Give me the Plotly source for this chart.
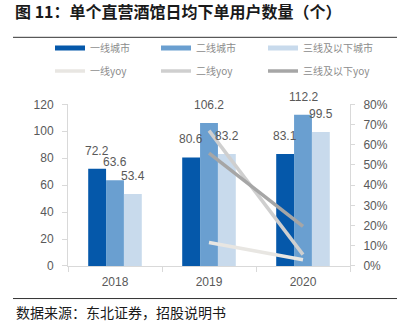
import plotly.graph_objects as go

years = ["2018", "2019", "2020"]
tier1 = [72.2, 80.6, 83.1]
tier2 = [63.6, 106.2, 112.2]
tier3 = [53.4, 83.2, 99.5]

yoy_years = ["2019", "2020"]
tier1_yoy = [0.116, 0.031]
tier2_yoy = [0.670, 0.056]
tier3_yoy = [0.558, 0.196]

bar_names = ["一线城市", "二线城市", "三线及以下城市"]
bar_colors = ["#0558AA", "#6A9FD0", "#C8DAEC"]
yoy_names = ["一线yoy", "二线yoy", "三线及以下yoy"]
yoy_colors = ["#E8E6E2", "#CFCFCF", "#A6A6A6"]

W, H = 407, 331
L, R, T, B = 68, 350, 97, 266
PW, PH = R - L, B - T

TXT = "#595959"
AX = "#D9D9D9"
NUM_FONT = "Liberation Sans, Arial, sans-serif"
CJK_FONT = "Noto Sans CJK SC"

fig = go.Figure()

series = [tier1, tier2, tier3]
for name, vals, col in zip(bar_names, series, bar_colors):
    fig.add_trace(go.Bar(x=years, y=vals, name=name, marker=dict(color=col, line=dict(width=0)),
                         showlegend=False, yaxis="y"))

for name, vals, col in zip(yoy_names, [tier1_yoy, tier2_yoy, tier3_yoy], yoy_colors):
    fig.add_trace(go.Scatter(x=yoy_years, y=vals, name=name, mode="lines",
                             line=dict(color=col, width=3.5), showlegend=False, yaxis="y2"))

# one single-entry legend per series, laid out as a 3x2 grid above the plot
legend_cols = [50, 156, 263]
legend_rows = [48, 71]
leg_layout = {}
k = 0
for row, (names, colors, width) in enumerate([(bar_names, bar_colors, 5),
                                               (yoy_names, yoy_colors, 3.5)]):
    for col, (name, color) in enumerate(zip(names, colors)):
        k += 1
        key = "legend" if k == 1 else f"legend{k}"
        fig.add_trace(go.Scatter(x=years, y=[None] * len(years), name=name, mode="lines",
                                 line=dict(color=color, width=width), legend=key,
                                 hoverinfo="skip"))
        leg_layout[key] = dict(orientation="h", xref="container", yref="container",
                               x=legend_cols[col] / W, y=1 - legend_rows[row] / H,
                               xanchor="left", yanchor="middle",
                               font=dict(family=CJK_FONT, size=10, color="#8C8C8C"),
                               bgcolor="rgba(0,0,0,0)", itemwidth=30)

# value labels above each bar (category index + pixel offset within the group)
offsets = [-18, 0, 18]
for vals, dx in zip(series, offsets):
    for i, v in enumerate(vals):
        fig.add_annotation(x=i, y=v, xref="x", yref="y", text=f"{v:.1f}", showarrow=False,
                           xshift=dx, yanchor="bottom", yshift=9,
                           font=dict(family=NUM_FONT, size=12, color=TXT))

fig.update_layout(
    width=W, height=H,
    margin=dict(l=L, r=W - R, t=T, b=H - B, pad=0),
    paper_bgcolor="white", plot_bgcolor="white",
    barmode="group", bargap=0.43, bargroupgap=0,
    showlegend=True,
    title=dict(text="<b>图 11：单个直营酒馆日均下单用户数量（个）</b>", xref="container", yref="container",
               x=15 / W, xanchor="left", y=1 - 12 / H, yanchor="middle",
               font=dict(family=CJK_FONT, size=16, color="#1a1a1a")),
    xaxis=dict(type="category", categoryorder="array", categoryarray=years, range=[-0.5, 2.5],
               showgrid=False, showline=True, linecolor=AX, linewidth=1,
               ticks="outside", tickson="boundaries", ticklen=5, tickcolor=AX, tickangle=0,
               ticklabelstandoff=5,
               tickfont=dict(family=NUM_FONT, size=12, color=TXT)),
    yaxis=dict(range=[0, 120], dtick=20, showgrid=False, zeroline=False, showline=True,
               linecolor=AX, linewidth=1, ticks="outside", ticklen=5, tickcolor=AX,
               ticklabelstandoff=6,
               tickfont=dict(family=NUM_FONT, size=12, color=TXT)),
    yaxis2=dict(range=[0, 0.8], dtick=0.1, tickformat=".0%", overlaying="y", side="right",
                showgrid=False, zeroline=False, showline=True, linecolor=AX, linewidth=1,
                ticks="outside", ticklen=4, tickcolor=AX, ticklabelstandoff=6,
                tickfont=dict(family=NUM_FONT, size=12, color=TXT)),
    **leg_layout,
)

# title underline and source rule
def px_x(p):
    return (p - L) / PW

def px_y(p):
    return (B - p) / PH

fig.add_shape(type="line", xref="paper", yref="paper", x0=px_x(13), x1=px_x(397),
              y0=px_y(27), y1=px_y(27), line=dict(color="#333333", width=1))
fig.add_shape(type="line", xref="paper", yref="paper", x0=px_x(13), x1=px_x(397),
              y0=px_y(300), y1=px_y(300), line=dict(color="#333333", width=1))

fig.add_annotation(text="数据来源：东北证券，招股说明书", xref="paper", yref="paper",
                   x=px_x(14), y=px_y(314), xanchor="left", yanchor="middle", showarrow=False,
                   font=dict(family=CJK_FONT, size=14, color="#1a1a1a"))

fig.write_html("out.html")
